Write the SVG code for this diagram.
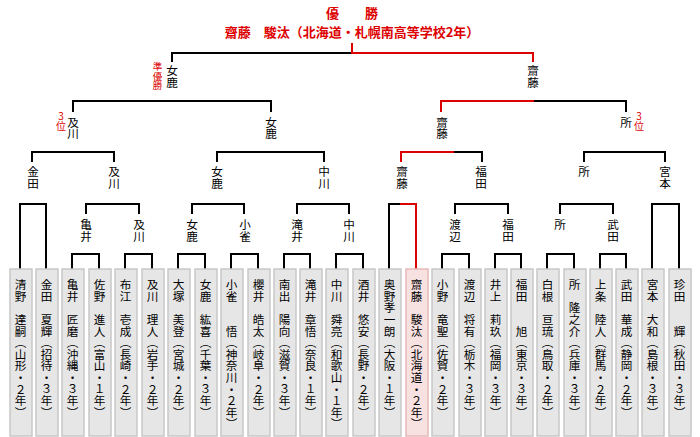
<svg xmlns="http://www.w3.org/2000/svg" width="700" height="437" viewBox="0 0 700 437">
<style>
.ln{fill:none;stroke:#000;stroke-width:2}
.rd{fill:none;stroke:#dd0000;stroke-width:2}
.bx{fill:#e6e6e6;stroke:#c8c8c8;stroke-width:1.5}
.bxw{fill:#f8e1e1;stroke:#e6b8b8;stroke-width:1.5}
.v{font-family:"Noto Sans CJK JP","Noto Sans CJK SC",sans-serif;font-size:11.6px;writing-mode:vertical-rl;fill:#000}
.rv{font-family:"Noto Sans CJK JP",sans-serif;font-size:9.5px;writing-mode:vertical-rl;fill:#dd0000}
.rs{font-family:"Noto Sans CJK JP",sans-serif;font-size:10px;writing-mode:vertical-rl;text-orientation:upright;fill:#dd0000}
.tt{font-family:"Noto Sans CJK JP",sans-serif;font-size:13px;font-weight:bold;fill:#dd0000;text-anchor:middle}
</style>
<g id="title">
<text class="tt" x="352" y="18">優　　勝</text>
<text class="tt" x="352" y="37">齋藤　駿汰（北海道・札幌南高等学校2年）</text>
</g>
<g id="connectors">
<path class="ln" d="M172,62V53H352"/>
<path class="rd" d="M352,43V53H533V62"/>
<path class="ln" d="M73,112V101H271V112"/>
<path class="rd" d="M441,112V101H534"/>
<path class="ln" d="M534,101H626V112"/>
<path class="ln" d="M32,162V152H114V162M217,162V152H324V162M584,162V152H665V162"/>
<path class="rd" d="M401,162V152H454"/>
<path class="ln" d="M454,152H482V162"/>
<path class="ln" d="M86,214V204H139V214M192,214V204H244V214M297,214V204H349V214M455,214V204H508V214M560,214V204H613V214"/>
<path class="ln" d="M20,269V204H46V269M389,269V204H400M652,269V204H679V269"/>
<path class="rd" d="M400,204H416V269"/>
<path class="ln" d="M72,269V254H99V269M125,269V254H152V269M178,269V254H205V269M231,269V254H258V269M284,269V254H310V269M336,269V254H363V269M442,269V254H469V269M495,269V254H521V269M547,269V254H574V269M600,269V254H626V269"/>
</g>
<g id="labels">
<g id="l4-megu"><text class="v" x="172" y="65">女鹿</text><text class="rv" x="157.5" y="62">準優勝</text></g>
<g id="l4-saito"><text class="v" x="533" y="65">齋藤</text></g>
<g id="l3-oikawa"><text class="v" x="73" y="116.5">及川</text><text class="rs" x="61" y="111.5">3位</text></g>
<g id="l3-megu"><text class="v" x="271" y="116.5">女鹿</text></g>
<g id="l3-saito"><text class="v" x="442" y="116.5">齋藤</text></g>
<g id="l3-tokoro"><text class="v" x="626" y="116.5">所</text><text class="rs" x="639" y="111.5">3位</text></g>
<g id="l2-kaneda"><text class="v" x="33" y="166">金田</text></g>
<g id="l2-oikawa"><text class="v" x="114" y="166">及川</text></g>
<g id="l2-megu"><text class="v" x="217" y="166">女鹿</text></g>
<g id="l2-nakagawa"><text class="v" x="324" y="166">中川</text></g>
<g id="l2-saito"><text class="v" x="402" y="166">齋藤</text></g>
<g id="l2-fukuda"><text class="v" x="481" y="166">福田</text></g>
<g id="l2-tokoro"><text class="v" x="584" y="166">所</text></g>
<g id="l2-miyamoto"><text class="v" x="665" y="166">宮本</text></g>
<g id="l1-kamei"><text class="v" x="86" y="219">亀井</text></g>
<g id="l1-oikawa"><text class="v" x="139" y="219">及川</text></g>
<g id="l1-megu"><text class="v" x="192" y="219">女鹿</text></g>
<g id="l1-kosuzume"><text class="v" x="245" y="219">小雀</text></g>
<g id="l1-takii"><text class="v" x="297" y="219">滝井</text></g>
<g id="l1-nakagawa"><text class="v" x="349" y="219">中川</text></g>
<g id="l1-watanabe"><text class="v" x="455" y="219">渡辺</text></g>
<g id="l1-fukuda"><text class="v" x="508" y="219">福田</text></g>
<g id="l1-tokoro"><text class="v" x="560" y="219">所</text></g>
<g id="l1-takeda"><text class="v" x="613" y="219">武田</text></g>
</g>
<g id="players">
<g id="p01"><rect class="bx" x="10" y="269" width="22" height="167"/><text class="v" x="20.5" y="279">清野　達嗣（山形・２年）</text></g>
<g id="p02"><rect class="bx" x="36" y="269" width="22" height="167"/><text class="v" x="46.5" y="279">金田　夏輝（招待・３年）</text></g>
<g id="p03"><rect class="bx" x="62" y="269" width="22" height="167"/><text class="v" x="72.5" y="279">亀井　匠磨（沖縄・３年）</text></g>
<g id="p04"><rect class="bx" x="89" y="269" width="22" height="167"/><text class="v" x="99.5" y="279">佐野　進人（富山・１年）</text></g>
<g id="p05"><rect class="bx" x="115" y="269" width="22" height="167"/><text class="v" x="125.5" y="279">布江　壱成（長崎・２年）</text></g>
<g id="p06"><rect class="bx" x="142" y="269" width="22" height="167"/><text class="v" x="152.5" y="279">及川　理人（岩手・２年）</text></g>
<g id="p07"><rect class="bx" x="168" y="269" width="22" height="167"/><text class="v" x="178.5" y="279">大塚　美登（宮城・２年）</text></g>
<g id="p08"><rect class="bx" x="195" y="269" width="22" height="167"/><text class="v" x="205.5" y="279">女鹿　紘喜（千葉・３年）</text></g>
<g id="p09"><rect class="bx" x="221" y="269" width="22" height="167"/><text class="v" x="231.5" y="279">小雀　　悟（神奈川・２年）</text></g>
<g id="p10"><rect class="bx" x="248" y="269" width="22" height="167"/><text class="v" x="258.5" y="279">櫻井　皓太（岐阜・２年）</text></g>
<g id="p11"><rect class="bx" x="274" y="269" width="22" height="167"/><text class="v" x="284.5" y="279">南出　陽向（滋賀・３年）</text></g>
<g id="p12"><rect class="bx" x="300" y="269" width="22" height="167"/><text class="v" x="310.5" y="279">滝井　章悟（奈良・１年）</text></g>
<g id="p13"><rect class="bx" x="326" y="269" width="22" height="167"/><text class="v" x="336.5" y="279">中川　舜亮（和歌山・１年）</text></g>
<g id="p14"><rect class="bx" x="353" y="269" width="22" height="167"/><text class="v" x="363.5" y="279">酒井　悠安（長野・２年）</text></g>
<g id="p15"><rect class="bx" x="379" y="269" width="22" height="167"/><text class="v" x="389.5" y="279">奥野孝一朗（大阪・１年）</text></g>
<g id="p16"><rect class="bxw" x="406" y="269" width="22" height="167"/><text class="v" x="416.5" y="279">齋藤　駿汰（北海道・２年）</text></g>
<g id="p17"><rect class="bx" x="432" y="269" width="22" height="167"/><text class="v" x="442.5" y="279">小野　竜聖（佐賀・２年）</text></g>
<g id="p18"><rect class="bx" x="459" y="269" width="22" height="167"/><text class="v" x="469.5" y="279">渡辺　将有（栃木・３年）</text></g>
<g id="p19"><rect class="bx" x="485" y="269" width="22" height="167"/><text class="v" x="495.5" y="279">井上　莉玖（福岡・３年）</text></g>
<g id="p20"><rect class="bx" x="511" y="269" width="22" height="167"/><text class="v" x="521.5" y="279">福田　　旭（東京・３年）</text></g>
<g id="p21"><rect class="bx" x="537" y="269" width="22" height="167"/><text class="v" x="547.5" y="279">白根　亘琉（鳥取・２年）</text></g>
<g id="p22"><rect class="bx" x="564" y="269" width="22" height="167"/><text class="v" x="574.5" y="279">所　隆之介（兵庫・３年）</text></g>
<g id="p23"><rect class="bx" x="590" y="269" width="22" height="167"/><text class="v" x="600.5" y="279">上条　陸人（群馬・２年）</text></g>
<g id="p24"><rect class="bx" x="616" y="269" width="22" height="167"/><text class="v" x="626.5" y="279">武田　華成（静岡・２年）</text></g>
<g id="p25"><rect class="bx" x="642" y="269" width="22" height="167"/><text class="v" x="652.5" y="279">宮本　大和（島根・３年）</text></g>
<g id="p26"><rect class="bx" x="669" y="269" width="22" height="167"/><text class="v" x="679.5" y="279">珍田　　輝（秋田・３年）</text></g>
</g>
</svg>
